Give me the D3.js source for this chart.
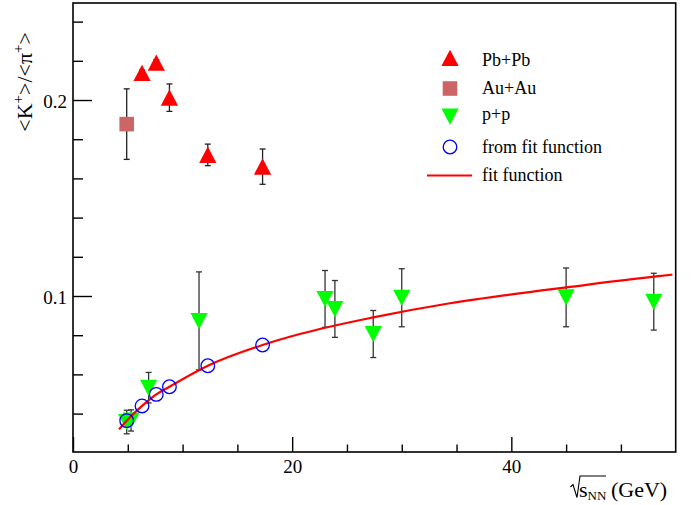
<!DOCTYPE html>
<html><head><meta charset="utf-8">
<script src="https://cdn.jsdelivr.net/npm/d3@7"></script>
<style>body{margin:0;background:#fff} text{font-family:"Liberation Serif","DejaVu Serif",serif;fill:#000}</style>
</head><body>
<svg id="c" width="695" height="505"></svg>
<script>
// ---- data ----
const pbpb_x = [6.3, 7.6, 8.8, 12.3, 17.3];
const pbpb_y = [0.2138, 0.219, 0.2012, 0.172, 0.166];
const pbpb_err = [0.0015, 0.0015, 0.007, 0.0055, 0.009];
const auau_x = [4.9];
const auau_y = [0.1877];
const auau_err = [0.018];
const pp_x = [4.9, 5.3, 6.9, 11.5, 23.0, 23.9, 27.4, 30.0, 45.0, 53.0];
const pp_y = [0.0357, 0.0365, 0.0532, 0.0873, 0.0985, 0.0934, 0.0806, 0.0991, 0.0993, 0.0971];
const pp_err = [0.006, 0.0054, 0.0078, 0.025, 0.0145, 0.0145, 0.012, 0.0148, 0.015, 0.0145];
const fitpts_x = [4.9, 6.3, 7.6, 8.8, 12.3, 17.3];
const fitpts_y = [0.0364, 0.0439, 0.0498, 0.0537, 0.0644, 0.075];
const fit_x = [4.2, 4.9, 6.3, 7.6, 8.8, 12.3, 17.3, 20.7, 27.4, 34.4, 42.6, 45, 53, 54.7];
const fit_y = [0.032, 0.0364, 0.0439, 0.0498, 0.0537, 0.0644, 0.075, 0.0806, 0.0891, 0.0963, 0.1027, 0.1044, 0.1099, 0.1109];
const xMajor = [0, 20, 40];
const xMinor = [5, 10, 15, 25, 30, 35, 45, 50];
const yMajor = [0.1, 0.2];
const yMinor = [0.04, 0.06, 0.08, 0.12, 0.14, 0.16, 0.18, 0.22, 0.24];
const legendLabels = ["Pb+Pb", "Au+Au", "p+p", "from fit function", "fit function"];

// ---- layout ----
const svg = d3.select("#c");
const L = 73, R = 675.7, T = 3, B = 452;
const x = d3.scaleLinear([0, 55], [L, R]);
const y = d3.scaleLinear([0.0204, 0.2495], [B, T]);

const fs = 19;
const gy1 = svg.append("g").attr("transform", `translate(${L},0)`)
  .call(d3.axisLeft(y).tickValues(yMajor).tickSize(-19).tickPadding(6).tickFormat(d3.format(".1f")));
const gy2 = svg.append("g").attr("transform", `translate(${L},0)`)
  .call(d3.axisLeft(y).tickValues(yMinor).tickSize(-10).tickFormat(""));
const gx1 = svg.append("g").attr("transform", `translate(0,${B})`)
  .call(d3.axisBottom(x).tickValues(xMajor).tickSize(-15).tickPadding(8).tickFormat(d3.format("d")));
const gx2 = svg.append("g").attr("transform", `translate(0,${B})`)
  .call(d3.axisBottom(x).tickValues(xMinor).tickSize(-7.5).tickFormat(""));
[gy1, gy2, gx1, gx2].forEach(g => {
  g.attr("font-family", null);
  g.select(".domain").remove();
  g.selectAll("line").attr("stroke", "#000").attr("stroke-width", 1.4);
  g.selectAll("text").attr("font-size", fs).attr("fill", "#000");
});
gy1.selectAll("text").attr("dy", "0.42em");
gx1.selectAll("text").attr("dy", "0.71em");

// frame
svg.append("rect").attr("x", L).attr("y", T).attr("width", R - L).attr("height", B - T)
  .attr("fill", "none").attr("stroke", "#000").attr("stroke-width", 1.6);

// axis titles
const yt = svg.append("text").attr("transform", `translate(32,32) rotate(-90)`)
  .attr("text-anchor", "end").attr("font-size", 22);
yt.append("tspan").text("<K");
yt.append("tspan").attr("font-size", 15).attr("dy", -9).text("+");
yt.append("tspan").attr("dy", 9).text(">/<π");
yt.append("tspan").attr("font-size", 15).attr("dy", -9).text("+");
yt.append("tspan").attr("dy", 9).text(">");

svg.append("path").attr("d", "M570.5,487 L573,484.5 L577,497.5 L580,476 L606,476")
  .attr("fill", "none").attr("stroke", "#000").attr("stroke-width", 1.1);
const xt = svg.append("text").attr("x", 579).attr("y", 497).attr("font-size", 22);
xt.append("tspan").text("s");
xt.append("tspan").attr("font-size", 13).attr("dy", 2.5).text("NN");
xt.append("tspan").attr("x", 611).attr("dy", -2.5).text("(GeV)");

// error bars
function errbars(xs, ys, es, color) {
  const g = svg.append("g").attr("stroke", color).attr("stroke-width", 1.3);
  xs.forEach((xv, i) => {
    const px = x(xv), y1 = y(ys[i] - es[i]), y2 = y(ys[i] + es[i]);
    g.append("line").attr("x1", px).attr("x2", px).attr("y1", y1).attr("y2", y2);
    g.append("line").attr("x1", px - 3).attr("x2", px + 3).attr("y1", y1).attr("y2", y1);
    g.append("line").attr("x1", px - 3).attr("x2", px + 3).attr("y1", y2).attr("y2", y2);
  });
}
errbars(auau_x, auau_y, auau_err, "#222");
errbars(pbpb_x, pbpb_y, pbpb_err, "#222");
errbars(pp_x, pp_y, pp_err, "#333");

// marker shapes
const triUp = (cx, cy) => `M${cx},${cy - 8.3}L${cx + 8.6},${cy + 8}L${cx - 8.6},${cy + 8}Z`;
const triDown = (cx, cy) => `M${cx - 8.6},${cy - 8}L${cx + 8.6},${cy - 8}L${cx},${cy + 8.3}Z`;

svg.append("g").selectAll("path").data(pbpb_x).join("path")
  .attr("d", (d, i) => triUp(x(d), y(pbpb_y[i]))).attr("fill", "#ff0000");
svg.append("g").selectAll("rect").data(auau_x).join("rect")
  .attr("x", d => x(d) - 7.3).attr("y", (d, i) => y(auau_y[i]) - 7.3)
  .attr("width", 14.6).attr("height", 14.6).attr("fill", "#cc6666");
svg.append("g").selectAll("path").data(pp_x).join("path")
  .attr("d", (d, i) => triDown(x(d), y(pp_y[i]))).attr("fill", "#00ff00");

// fit line
const fitData = fit_x.map((d, i) => [d, fit_y[i]]);
svg.append("path").datum(fitData)
  .attr("d", d3.line().x(d => x(d[0])).y(d => y(d[1])).curve(d3.curveMonotoneX))
  .attr("fill", "none").attr("stroke", "#ff0000").attr("stroke-width", 2.2);

// fit points
svg.append("g").selectAll("circle").data(fitpts_x).join("circle")
  .attr("cx", d => x(d)).attr("cy", (d, i) => y(fitpts_y[i])).attr("r", 6.8)
  .attr("fill", "none").attr("stroke", "#0000ff").attr("stroke-width", 1.3);

// legend
const lx = 450, tx = 482;
const lg = svg.append("g");
lg.append("path").attr("d", triUp(lx, 58)).attr("fill", "#ff0000");
lg.append("rect").attr("x", lx - 7.3).attr("y", 88.5 - 7.3).attr("width", 14.6).attr("height", 14.6).attr("fill", "#cc6666");
lg.append("path").attr("d", triDown(lx, 116.5)).attr("fill", "#00ff00");
lg.append("circle").attr("cx", lx).attr("cy", 147).attr("r", 6.8).attr("fill", "none").attr("stroke", "#0000ff").attr("stroke-width", 1.3);
lg.append("line").attr("x1", 427).attr("x2", 472).attr("y1", 175.5).attr("y2", 175.5).attr("stroke", "#ff0000").attr("stroke-width", 2.2);
const ly = [66, 94.3, 120, 152.7, 181];
legendLabels.forEach((t, i) => {
  lg.append("text").attr("x", tx).attr("y", ly[i]).attr("font-size", 18).text(t);
});
</script>
</body></html>
